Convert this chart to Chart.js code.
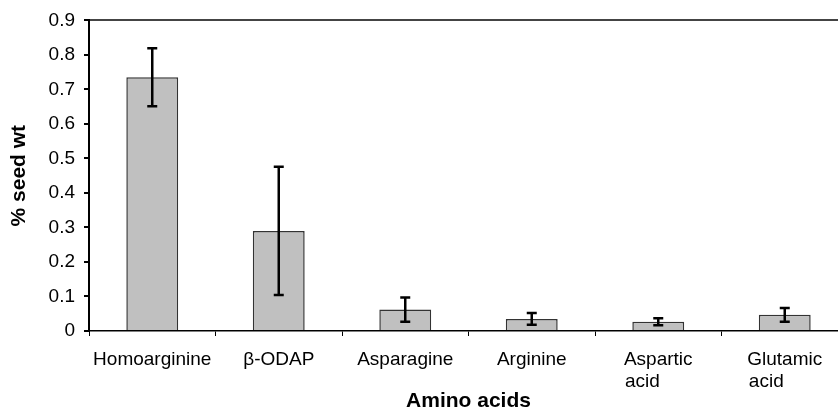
<!DOCTYPE html>
<html lang="en">
  <head>
    <meta charset="UTF-8" />
    <title>Amino acids, % seed wt</title>
    <script src="https://cdn.jsdelivr.net/npm/chart.js"></script>
    <style>
      html, body { margin: 0; padding: 0; background: #fff; overflow: hidden; }
      #wrap { width: 848px; height: 409px; }
    </style>
  </head>
  <body>
    <div id="wrap"><canvas id="chartCanvas" width="848" height="409"></canvas></div>

    <script>
      let categories = [
        ["Homoarginine"],
        ["β-ODAP"],
        ["Asparagine"],
        ["Arginine"],
        ["Aspartic", "acid"],
        ["Glutamic", "acid"],
      ];
      let seedWt = [0.735, 0.29, 0.062, 0.035, 0.027, 0.047];
      let errors = [0.084, 0.186, 0.035, 0.017, 0.01, 0.02];
      let yTicks = [0, 0.1, 0.2, 0.3, 0.4, 0.5, 0.6, 0.7, 0.8, 0.9];

      const font = "'Liberation Sans', Arial, sans-serif";

      // pad shorter lines with trailing spaces so wrapped labels look left aligned
      let measure = document.createElement("canvas").getContext("2d");
      measure.font = "19px " + font;
      function leftAlignLines(lines) {
        if (lines.length < 2) return lines;
        let widest = Math.max(...lines.map((l) => measure.measureText(l).width));
        return lines.map((l) => {
          let s = l;
          while (measure.measureText(s + " ").width <= widest + 2) s += " ";
          return s;
        });
      }

      // error bars drawn over the bars using the chart scales
      const errorBars = {
        id: "errorBars",
        afterDatasetsDraw(chart) {
          let ctx = chart.ctx;
          let y = chart.scales.y;
          let meta = chart.getDatasetMeta(0);
          ctx.save();
          ctx.strokeStyle = "#000";
          ctx.lineWidth = 2.5;
          meta.data.forEach((bar, i) => {
            let top = y.getPixelForValue(seedWt[i] + errors[i]);
            let bot = y.getPixelForValue(seedWt[i] - errors[i]);
            ctx.beginPath();
            ctx.moveTo(bar.x, top);
            ctx.lineTo(bar.x, bot);
            ctx.moveTo(bar.x - 5, top);
            ctx.lineTo(bar.x + 5, top);
            ctx.moveTo(bar.x - 5, bot);
            ctx.lineTo(bar.x + 5, bot);
            ctx.stroke();
          });
          ctx.restore();
        },
      };

      new Chart(document.getElementById("chartCanvas").getContext("2d"), {
        type: "bar",
        data: {
          labels: categories,
          datasets: [
            {
              label: "% seed wt",
              data: seedWt,
              backgroundColor: "#c0c0c0",
              borderColor: "#333",
              borderWidth: 1.5,
              barPercentage: 0.41,
              categoryPercentage: 1,
            },
          ],
        },
        options: {
          responsive: false,
          animation: false,
          layout: { padding: { top: 18, right: 0, bottom: 0, left: 0 } },
          plugins: { legend: { display: false }, tooltip: { enabled: false } },
          scales: {
            x: {
              grid: {
                offset: true,
                drawOnChartArea: false,
                tickLength: 5,
                tickColor: "#000",
              },
              border: { color: "#000", width: 1.5 },
              ticks: {
                color: "#000",
                font: { family: font, size: 19 },
                padding: 12,
                maxRotation: 0,
                autoSkip: false,
                callback: (v, i) => leftAlignLines(categories[i]),
              },
              title: {
                display: true,
                text: "Amino acids",
                color: "#000",
                font: { family: font, size: 21, weight: "bold", lineHeight: 1 },
                padding: { top: 0, bottom: -3 },
              },
              afterFit(scale) {
                scale.height = 78;
              },
            },
            y: {
              min: 0,
              max: 0.9,
              afterBuildTicks(scale) {
                scale.ticks = yTicks.map((v) => ({ value: v }));
              },
              grid: {
                drawOnChartArea: true,
                tickLength: 5,
                tickColor: "#000",
                color: (c) => (c.tick && c.tick.value === 0.9 ? "#444" : "transparent"),
                lineWidth: 2,
              },
              border: { color: "#000", width: 2 },
              ticks: {
                color: "#000",
                font: { family: font, size: 19 },
                padding: 9,
              },
              title: {
                display: true,
                text: "% seed wt",
                color: "#000",
                font: { family: font, size: 21, weight: "bold", lineHeight: 1.2 },
                padding: { top: 7, bottom: 0 },
              },
              afterFit(scale) {
                scale.width = 89;
              },
            },
          },
        },
        plugins: [errorBars],
      });
    </script>
  </body>
</html>
